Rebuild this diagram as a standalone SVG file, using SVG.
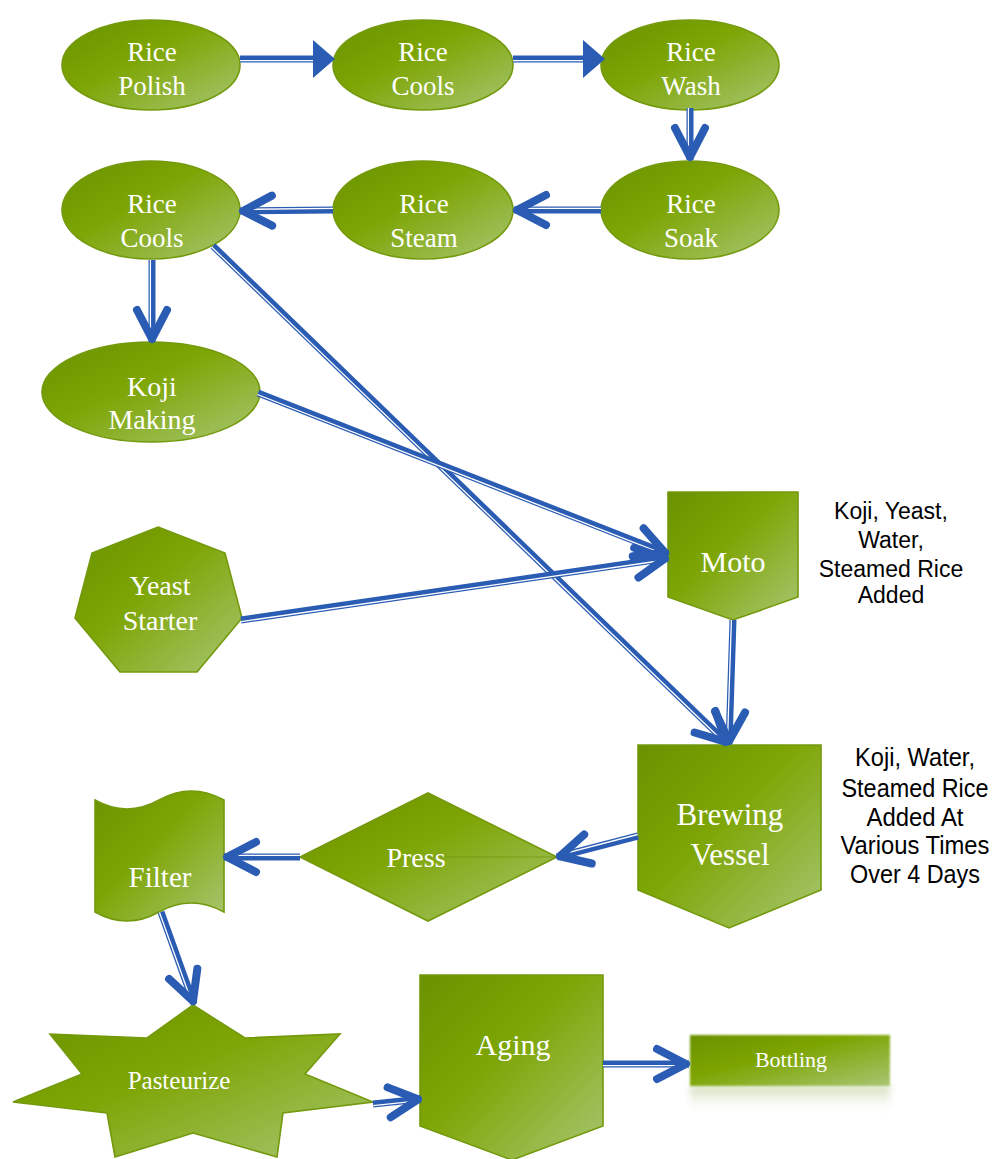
<svg xmlns="http://www.w3.org/2000/svg" xmlns:xlink="http://www.w3.org/1999/xlink" width="1003" height="1159" viewBox="0 0 1003 1159">
<style>
.shape{fill:url(#g);stroke:#74990c;stroke-width:1.6}
.lbl{font-family:"Liberation Serif","Times New Roman",serif;fill:#fff;text-anchor:middle}
.note{font-family:"Liberation Sans",Arial,sans-serif;fill:#000;text-anchor:middle}
.c{fill:none;stroke:#2b5cb3;stroke-width:7}
.w{fill:none;stroke:#fff;stroke-width:1.3}
.m{fill:none;stroke:none;marker-end:url(#chev)}
.t{fill:none;stroke:none;marker-end:url(#tri)}
</style>
<defs>
<linearGradient id="g" x1="0" y1="0" x2="1" y2="1">
<stop offset="0" stop-color="#6a9200"/>
<stop offset="0.42" stop-color="#7da503"/>
<stop offset="1" stop-color="#a8c673"/>
</linearGradient>
<linearGradient id="refl" x1="0" y1="0" x2="0" y2="1">
<stop offset="0" stop-color="#a9c079" stop-opacity="0.55"/>
<stop offset="1" stop-color="#ffffff" stop-opacity="0"/>
</linearGradient>
<filter id="soft" x="-5%" y="-20%" width="110%" height="140%"><feGaussianBlur stdDeviation="1.2"/></filter>
<filter id="soft2" x="-5%" y="-20%" width="110%" height="140%"><feGaussianBlur stdDeviation="3"/></filter>
<marker id="chev" markerUnits="userSpaceOnUse" orient="auto" markerWidth="60" markerHeight="60" refX="0" refY="0" viewBox="-40 -30 60 60" overflow="visible">
<path d="M-32,-15 L-3,0 L-32,15" fill="none" stroke="#2b5cb3" stroke-width="8" stroke-linecap="round" stroke-linejoin="round"/>
</marker>
<marker id="tri" markerUnits="userSpaceOnUse" orient="auto" markerWidth="60" markerHeight="60" refX="0" refY="0" viewBox="-40 -30 60 60" overflow="visible">
<path d="M10,0 L-12,-19 L-12,19 z" fill="#2b5cb3"/>
</marker>
<path id="p1" d="M240,59 L325,59"/>
<path id="p2" d="M513,59 L595,59"/>
<path id="p3" d="M690,108 L690,160"/>
<path id="p4" d="M601,210 L514,210"/>
<path id="p5" d="M333,210 L240,211"/>
<path id="p6" d="M152,260 L152,342"/>
<path id="p7" d="M213,246 L728,744"/>
<path id="p8" d="M258,393 L668,554"/>
<path id="p9" d="M241,620 L668,558"/>
<path id="p10" d="M733,620 L729,744"/>
<path id="p11" d="M638,836 L557,857"/>
<path id="p12" d="M300,857 L224,857"/>
<path id="p13" d="M161,912 L194,1004"/>
<path id="p14" d="M373,1104 L421,1099"/>
<path id="p15" d="M603,1064 L689,1064"/>
</defs>
<rect width="1003" height="1159" fill="#fff"/>

<g id="n-rice-polish"><ellipse class="shape" cx="151" cy="65" rx="89" ry="45"/><text class="lbl" font-size="27" x="152" y="61">Rice</text><text class="lbl" font-size="27" x="152" y="95">Polish</text></g>
<g id="n-rice-cools-1"><ellipse class="shape" cx="423" cy="65" rx="90" ry="45"/><text class="lbl" font-size="27" x="423" y="61">Rice</text><text class="lbl" font-size="27" x="423" y="95">Cools</text></g>
<g id="n-rice-wash"><ellipse class="shape" cx="690" cy="65" rx="89" ry="45"/><text class="lbl" font-size="27" x="691" y="61">Rice</text><text class="lbl" font-size="27" x="691" y="95">Wash</text></g>
<g id="n-rice-soak"><ellipse class="shape" cx="690" cy="210" rx="89" ry="49"/><text class="lbl" font-size="27" x="691" y="213">Rice</text><text class="lbl" font-size="27" x="691" y="247">Soak</text></g>
<g id="n-rice-steam"><ellipse class="shape" cx="423" cy="210" rx="90" ry="49"/><text class="lbl" font-size="27" x="424" y="213">Rice</text><text class="lbl" font-size="27" x="424" y="247">Steam</text></g>
<g id="n-rice-cools-2"><ellipse class="shape" cx="151" cy="210" rx="89" ry="49"/><text class="lbl" font-size="27" x="152" y="213">Rice</text><text class="lbl" font-size="27" x="152" y="247">Cools</text></g>
<g id="n-koji-making"><ellipse class="shape" cx="151" cy="392" rx="109" ry="50"/><text class="lbl" font-size="28" x="152" y="396">Koji</text><text class="lbl" font-size="28" x="152" y="429">Making</text></g>
<g id="n-yeast-starter"><polygon class="shape" points="158,527 225,553 242,618 197,672 120,672 75,618 92,553"/><text class="lbl" font-size="28" x="160" y="595">Yeast</text><text class="lbl" font-size="28" x="160" y="630">Starter</text></g>
<g id="n-moto"><polygon class="shape" points="668,492 798,492 798,597 733,620 668,597"/><text class="lbl" font-size="30" x="733" y="572">Moto</text></g>
<g id="note-moto"><text class="note" font-size="23" x="891" y="519">Koji, Yeast,</text><text class="note" font-size="23" x="891" y="548">Water,</text><text class="note" font-size="23" x="891" y="577">Steamed Rice</text><text class="note" font-size="23" x="891" y="603">Added</text></g>
<g id="n-brewing-vessel"><polygon class="shape" points="638,745 821,745 821,890 729,928 638,890"/><text class="lbl" font-size="31" x="730" y="825">Brewing</text><text class="lbl" font-size="31" x="730" y="865">Vessel</text></g>
<g id="note-brewing"><text class="note" font-size="26" x="915" y="766" textLength="120" lengthAdjust="spacingAndGlyphs">Koji, Water,</text><text class="note" font-size="26" x="915" y="797" textLength="147" lengthAdjust="spacingAndGlyphs">Steamed Rice</text><text class="note" font-size="26" x="915" y="826" textLength="97" lengthAdjust="spacingAndGlyphs">Added At</text><text class="note" font-size="26" x="915" y="854" textLength="149" lengthAdjust="spacingAndGlyphs">Various Times</text><text class="note" font-size="26" x="915" y="883" textLength="130" lengthAdjust="spacingAndGlyphs">Over 4 Days</text></g>
<g id="n-press"><polygon class="shape" points="300,857 428,793 557,857 428,921"/><line x1="420" y1="857" x2="556" y2="857" stroke="#6f940a" stroke-width="1.2" opacity="0.7"/><text class="lbl" font-size="28" x="416" y="867">Press</text></g>
<g id="n-filter"><path class="shape" d="M95,800 Q127,818 159,800 T224,800 L224,912 Q191,894 159,912 T95,912 Z"/><text class="lbl" font-size="29" x="160" y="887">Filter</text></g>
<g id="n-pasteurize"><polygon class="shape" points="193,1005 245,1038 340,1034 305,1074 373,1102 283,1113 277,1157 193,1133 115,1157 107,1113 13,1102 82,1074 50,1034 147,1038"/><text class="lbl" font-size="25" x="179" y="1089">Pasteurize</text></g>
<g id="n-aging"><polygon class="shape" points="420,975 603,975 603,1126 512,1160 420,1126"/><text class="lbl" font-size="30" x="513" y="1055">Aging</text></g>
<g id="n-bottling"><rect x="690" y="1086" width="200" height="28" fill="url(#refl)" filter="url(#soft2)"/><rect x="690" y="1035" width="200" height="51" fill="url(#g)" filter="url(#soft)"/><text class="lbl" font-size="22" x="791" y="1067">Bottling</text></g>

<g id="connectors">
<use xlink:href="#p1" class="c"/><path class="w" d="M240,60.6 L318,60.6"/><use xlink:href="#p1" class="t"/>
<use xlink:href="#p2" class="c"/><path class="w" d="M513,60.6 L588,60.6"/><use xlink:href="#p2" class="t"/>
<use xlink:href="#p3" class="c"/><path class="w" d="M688.4,108 L688.4,158"/><use xlink:href="#p3" class="m"/>
<use xlink:href="#p4" class="c"/><path class="w" d="M601,208.4 L516,208.4"/><use xlink:href="#p4" class="m"/>
<use xlink:href="#p5" class="c"/><path class="w" d="M333,208.4 L242,209.4"/><use xlink:href="#p5" class="m"/>
<use xlink:href="#p6" class="c"/><path class="w" d="M150.4,260 L150.4,340"/><use xlink:href="#p6" class="m"/>
<use xlink:href="#p7" class="c"/><path class="w" d="M211.9,247.2 L725.5,743.8"/><use xlink:href="#p7" class="m"/>
<use xlink:href="#p8" class="c"/><path class="w" d="M257.4,394.5 L665.5,554.8"/><use xlink:href="#p8" class="m"/>
<use xlink:href="#p9" class="c"/><path class="w" d="M241.2,621.6 L665.5,560"/><use xlink:href="#p9" class="m"/>
<use xlink:href="#p10" class="c"/><path class="w" d="M731.4,620 L727.5,741"/><use xlink:href="#p10" class="m"/>
<use xlink:href="#p11" class="c"/><path class="w" d="M637.6,834.5 L559.5,854.8"/><use xlink:href="#p11" class="m"/>
<use xlink:href="#p12" class="c"/><path class="w" d="M300,855.4 L227,855.4"/><use xlink:href="#p12" class="m"/>
<use xlink:href="#p13" class="c"/><path class="w" d="M159.5,912.5 L191.7,1002"/><use xlink:href="#p13" class="m"/>
<use xlink:href="#p14" class="c"/><path class="w" d="M373.2,1105.6 L418.5,1100.9"/><use xlink:href="#p14" class="m"/>
<use xlink:href="#p15" class="c"/><path class="w" d="M603,1065.6 L686,1065.6"/><use xlink:href="#p15" class="m"/>
</g>
</svg>
